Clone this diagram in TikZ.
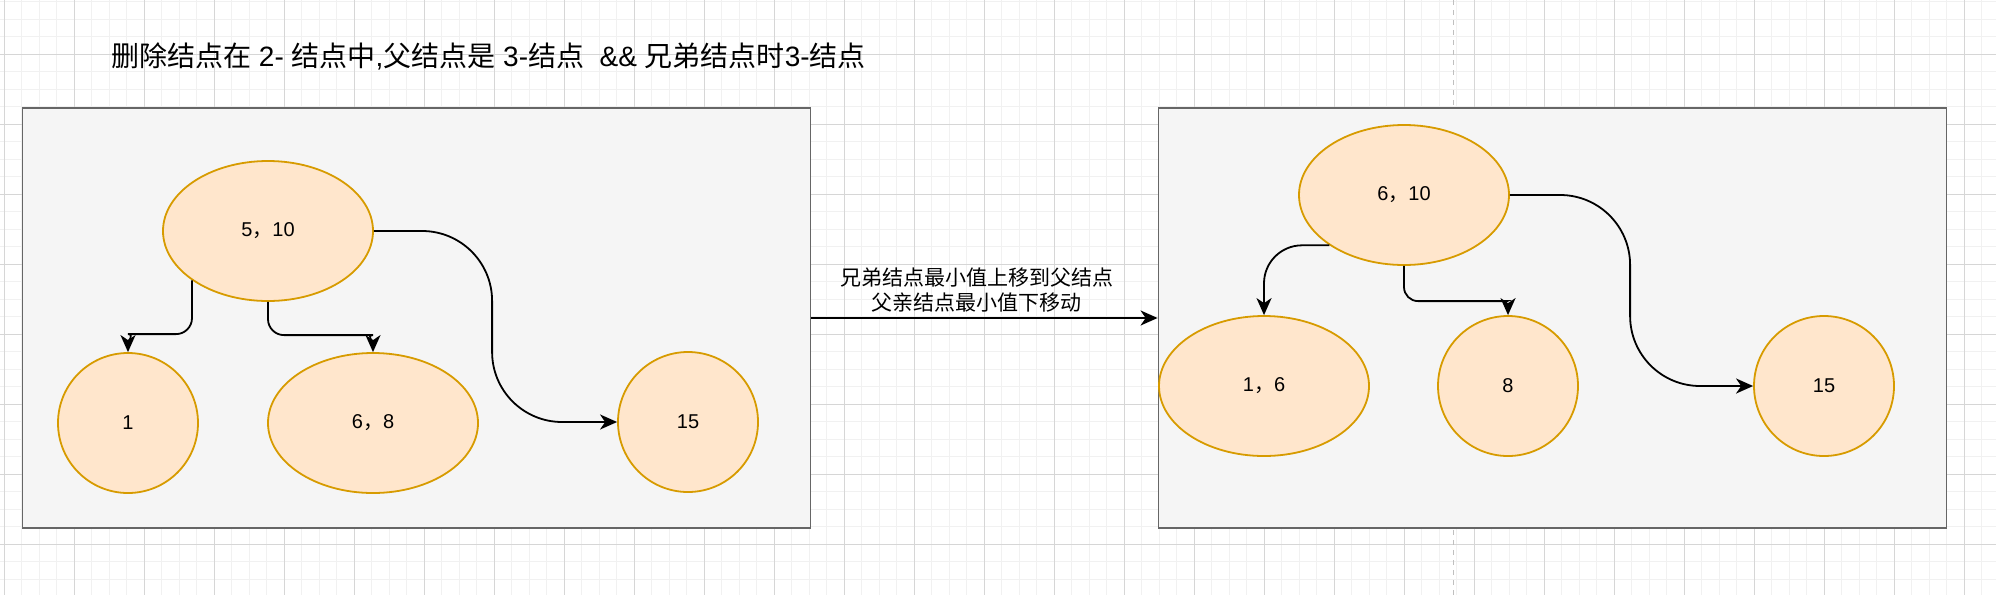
\documentclass[tikz,border=0pt]{standalone}
\usepackage{fontspec}
\setmainfont{Liberation Sans}
\newfontfamily\cjk{Noto Sans CJK SC}
\usetikzlibrary{shapes.geometric,arrows.meta}

\definecolor{panelfill}{HTML}{F5F5F5}
\definecolor{panelline}{HTML}{666666}
\definecolor{keyfill}{HTML}{FFE6CC}
\definecolor{keyline}{HTML}{D79B00}
\definecolor{gridminor}{HTML}{F1F1F1}
\definecolor{gridmajor}{HTML}{D6D6D6}

\tikzset{
	panel/.style={draw=panelline,fill=panelfill,line width=1.8pt,minimum width=788pt,minimum height=420pt,inner sep=0pt},
	key/.style={ellipse,draw=keyline,fill=keyfill,line width=1.8pt,minimum height=140pt,inner sep=0pt,font=\fontsize{20}{24}\selectfont},
	wide/.style={key,minimum width=210pt},
	narrow/.style={key,minimum width=140pt},
	edge/.style={line width=1.8pt,-{Stealth[length=17pt,width=15pt,inset=5pt]}}
}

\begin{document}
\begin{tikzpicture}[x=1pt,y=-1pt]
\useasboundingbox (0,0) rectangle (1996,595);
\fill[white] (0,0) rectangle (1996,595);

% background grid
\foreach \i in {0,...,113}
	\draw[gridminor,line width=1pt] (4.3+17.5*\i,0) -- (4.3+17.5*\i,595);
\foreach \j in {0,...,34}
	\draw[gridminor,line width=1pt] (0,1.5+17.5*\j) -- (1996,1.5+17.5*\j);
\foreach \i in {0,...,28}
	\draw[gridmajor,line width=1pt] (4.3+70*\i,0) -- (4.3+70*\i,595);
\foreach \j in {0,...,8}
	\draw[gridmajor,line width=1pt] (0,54+70*\j) -- (1996,54+70*\j);
\draw[gray!50,line width=1pt,dash pattern=on 5pt off 5pt] (1453,0) -- (1453,595);

\node[anchor=west,inner sep=0pt,font=\fontsize{28}{32}\selectfont] (title) at (111,56)
	{{\cjk 删除结点在} 2- {\cjk 结点中},{\cjk 父结点是} 3-{\cjk 结点}\ \ \&\& {\cjk 兄弟结点时}3-{\cjk 结点}};

\node[panel] (before) at (416.5,318) {};
\node[panel] (after) at (1552.5,318) {};

% before
\node[wide] (p510) at (268,231) {5{\cjk ，}10};
\node[narrow] (c1) at (128,423) {1};
\node[wide] (c68) at (373,423) {6{\cjk ，}8};
\node[narrow] (c15a) at (688,422) {15};

\draw[edge,rounded corners=16pt] (p510.213) |- ([xshift=16pt,yshift=18pt]c1.north) to[out=180,in=90] (c1.north);
\draw[edge,rounded corners=16pt] (p510.south) |- ([xshift=-16pt,yshift=17pt]c68.north) to[out=0,in=90] (c68.north);
\draw[edge,rounded corners=70pt] (p510.east) -| ([xshift=-125pt]c15a.west) -- (c15a.west);

% after
\node[wide] (p610) at (1404,195) {6{\cjk ，}10};
\node[wide] (c16) at (1264,386) {1{\cjk ，}6};
\node[narrow] (c8) at (1508,386) {8};
\node[narrow] (c15b) at (1824,386) {15};

\draw[edge,rounded corners=38pt] (p610.214) -| (c16.north);
\draw[edge,rounded corners=14pt] (p610.south) |- ([xshift=-15pt,yshift=14pt]c8.north) to[out=0,in=90] (c8.north);
\draw[edge,rounded corners=70pt] (p610.east) -| ([xshift=-123pt]c15b.west) -- (c15b.west);

% move
\draw[edge] (before.east) -- (after.west) node[pos=0.478,above=2pt,align=center,font=\cjk\fontsize{21}{25}\selectfont] (move) {兄弟结点最小值上移到父结点\\父亲结点最小值下移动};
\end{tikzpicture}
\end{document}
